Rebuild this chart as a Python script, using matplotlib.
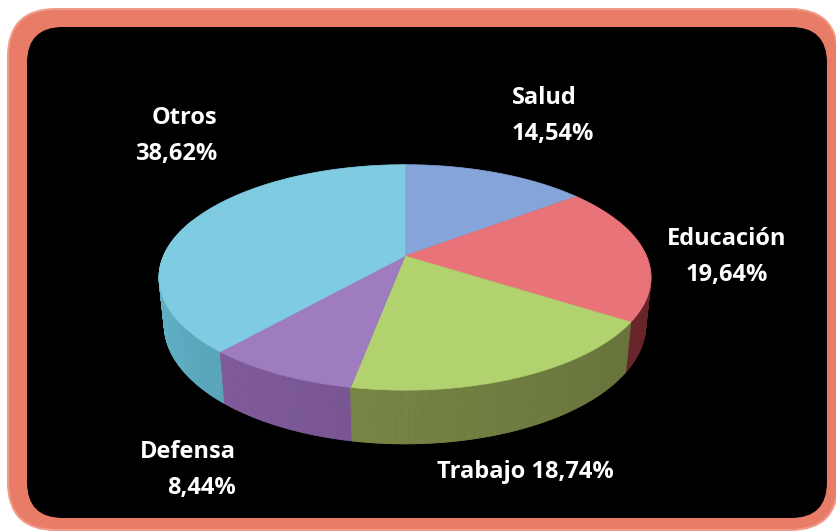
import numpy as np
import matplotlib
matplotlib.use("Agg")
import matplotlib.pyplot as plt
from matplotlib.patches import FancyBboxPatch, Polygon
from matplotlib.collections import PolyCollection
from matplotlib.colors import to_rgb

# datos
sectores = ["Salud", "Educación", "Trabajo", "Defensa", "Otros"]
porcentajes = [14.54, 19.64, 18.74, 8.44, 38.62]
colores_top = ["#84a4da", "#e8747a", "#b2d270", "#9f7cc0", "#7fcce2"]
colores_lado = ["#4d6aa0", "#8c3238", "#8a9a50", "#8c64aa", "#62b6cc"]
etiquetas = ["Salud\n14,54%", "Educación\n19,64%", "Trabajo 18,74%",
             "Defensa\n8,44%", "Otros\n38,62%"]

W, H = 837, 531
CX, CY = 405, H - 256


def img_y(y):
    # pixel (y hacia abajo) -> eje (y hacia arriba)
    return H - y


def proyectar(t, z, sin_phi=0.45, dist=4.7, escala=1135.0):
    """Proyeccion en perspectiva de un punto del cilindro (radio 1)."""
    cos_phi = np.sqrt(1 - sin_phi ** 2)
    x = np.cos(t)
    y = np.sin(t)
    v = y * sin_phi + z * cos_phi
    d = dist + y * cos_phi - z * sin_phi
    return CX + escala * x / d, CY + escala * v / d, d


def main():
    fig = plt.figure(figsize=(W / 100, H / 100), dpi=100)
    fig.patch.set_facecolor("white")
    ax = fig.add_axes([0, 0, 1, 1])
    ax.set_xlim(0, W)
    ax.set_ylim(0, H)
    ax.axis("off")

    # marco
    marco = FancyBboxPatch((8 + 48, img_y(530) + 48), 830 - 96, 521 - 96,
                           boxstyle="round,pad=48", fc="#e97c67", ec="#f09a88",
                           lw=1.5, zorder=1)
    ax.add_patch(marco)
    fondo = FancyBboxPatch((27 + 36, img_y(518) + 36), 800 - 72, 491 - 72,
                           boxstyle="round,pad=36", fc="black", ec="none", zorder=2)
    ax.add_patch(fondo)

    grosor = 0.22

    total = sum(porcentajes)
    cum = np.concatenate([[0], np.cumsum(porcentajes)]) / total
    # sentido horario desde las 12
    t_ini = 90 - cum[:-1] * 360
    t_fin = 90 - cum[1:] * 360

    # lados
    quads = []
    for i in range(len(sectores)):
        lo, hi = t_fin[i], t_ini[i]
        base = np.array(to_rgb(colores_lado[i]))
        for k in (-360, 0, 360):
            s = max(lo + k, -200)
            e = min(hi + k, 20)
            if e <= s:
                continue
            ts = np.linspace(s, e, max(int((e - s) * 2), 2))
            for t0, t1 in zip(ts[:-1], ts[1:]):
                r0, r1 = np.radians(t0), np.radians(t1)
                x0, y0, d0 = proyectar(r0, 0)
                x1, y1, d1 = proyectar(r1, 0)
                x2, y2, _ = proyectar(r1, -grosor)
                x3, y3, _ = proyectar(r0, -grosor)
                # mas oscuro hacia la derecha
                f = 1.0 - 0.3 * np.clip((t0 + 180) / 180, 0, 1)
                col = np.clip(base * f, 0, 1)
                quads.append((d0 + d1, [(x0, y0), (x1, y1), (x2, y2), (x3, y3)], col))
    quads.sort(key=lambda q: -q[0])
    ax.add_collection(PolyCollection([q[1] for q in quads],
                                     facecolors=[q[2] for q in quads],
                                     edgecolors=[q[2] for q in quads],
                                     linewidths=0.6, zorder=3))

    # caras superiores
    for i in range(len(sectores)):
        ts = np.radians(np.linspace(t_ini[i], t_fin[i], 200))
        xs, ys, _ = proyectar(ts, 0)
        pts = [(CX, CY)] + list(zip(xs, ys))
        ax.add_patch(Polygon(pts, closed=True, fc=colores_top[i],
                             ec=colores_top[i], lw=0.5, zorder=4))

    # etiquetas
    fuente = dict(color="white", fontsize=17, fontweight="bold",
                  family=["Open Sans", "DejaVu Sans"], zorder=6,
                  linespacing=1.68, va="center")
    ax.text(512, img_y(116), etiquetas[0], ha="left", ma="left", **fuente)
    ax.text(727, img_y(257), etiquetas[1], ha="center", ma="center", **fuente)
    ax.text(525, img_y(472), etiquetas[2], ha="center", **fuente)
    ax.text(236, img_y(470), etiquetas[3], ha="right", ma="right", **fuente)
    ax.text(217, img_y(136), etiquetas[4], ha="right", ma="right", **fuente)

    fig.savefig("out.png", dpi=100, facecolor="white")


if __name__ == "__main__":
    main()
